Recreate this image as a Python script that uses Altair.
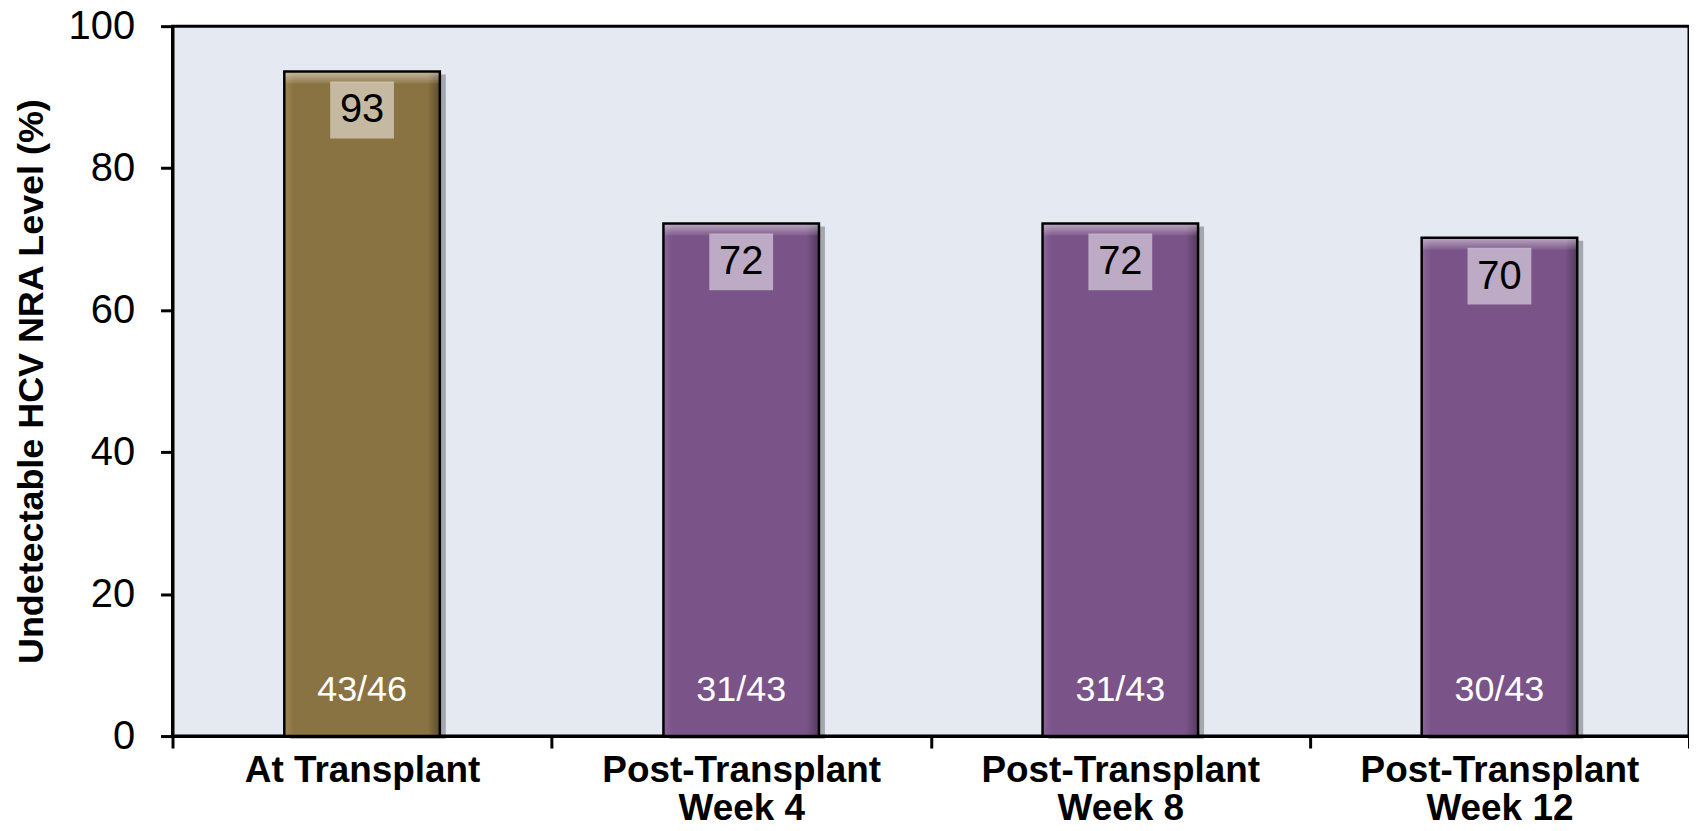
import altair as alt
import pandas as pd

categories = ["At Transplant", "Post-Transplant|Week 4", "Post-Transplant|Week 8", "Post-Transplant|Week 12"]
bar_heights = [93.6, 72.2, 72.2, 70.2]
labels = [93, 72, 72, 70]
counts = ["43/46", "31/43", "31/43", "30/43"]
groups = ["gold", "purple", "purple", "purple"]

df = pd.DataFrame({"cat": categories, "val": bar_heights, "lab": labels, "cnt": counts, "grp": groups})

FONT = "Liberation Sans, Arial, Helvetica, sans-serif"
BAR_W = 156

x = alt.X("cat:N", sort=categories, title=None,
          scale=alt.Scale(paddingInner=0, paddingOuter=0),
          axis=alt.Axis(labelExpr="split(datum.label, '|')", labelAngle=0,
                        labelFont=FONT, labelFontSize=37, labelFontWeight="bold",
                        labelColor="black", labelLineHeight=38, labelPadding=5,
                        labelBaseline="top", labelLimit=0, labelOverlap=False,
                        tickBand="extent", tickSize=12, tickWidth=3, tickColor="black",
                        domainColor="black", domainWidth=3))
y = alt.Y("val:Q", scale=alt.Scale(domain=[0, 100], nice=False),
          title="Undetectable HCV NRA Level (%)",
          axis=alt.Axis(values=[0, 20, 40, 60, 80, 100], grid=False,
                        labelFont=FONT, labelFontSize=40, labelColor="black",
                        labelPadding=26, tickSize=12, tickWidth=3, tickColor="black",
                        domainColor="black", domainWidth=3,
                        titleFont=FONT, titleFontSize=36, titleFontWeight="bold",
                        titleColor="black", titleAngle=-90, titleX=-130, titleY=356,
                        titleAlign="center", titleBaseline="alphabetic"))

base = alt.Chart(df)

def grad_h(light, mid, dark):
    return alt.Gradient(gradient="linear", x1=0, x2=1, y1=0, y2=0,
                        stops=[alt.GradientStop(offset=0, color=light),
                               alt.GradientStop(offset=0.06, color=mid),
                               alt.GradientStop(offset=0.92, color=mid),
                               alt.GradientStop(offset=1, color=dark)])

shadow = base.mark_bar(size=BAR_W, color="black", opacity=0.28, xOffset=6, yOffset=3).encode(x=x, y=y)

gold = base.transform_filter("datum.grp == 'gold'").mark_bar(
    size=BAR_W, color=grad_h("#9E8753", "#8A7342", "#5C4C2B")).encode(x=x, y=y)
purple = base.transform_filter("datum.grp == 'purple'").mark_bar(
    size=BAR_W, color=grad_h("#8C669B", "#7A5488", "#54395E")).encode(x=x, y=y)

bevel = base.mark_bar(size=BAR_W, y2Offset=12,
                      color=alt.Gradient(gradient="linear", x1=0, x2=0, y1=0, y2=1,
                                         stops=[alt.GradientStop(offset=0, color="rgba(255,255,255,0.5)"),
                                                alt.GradientStop(offset=1, color="rgba(255,255,255,0.05)")])
                      ).encode(x=x, y=y, y2="val:Q")

outline = base.mark_bar(size=BAR_W, fillOpacity=0, stroke="black", strokeWidth=2.5).encode(x=x, y=y)

box = base.mark_bar(size=64, color="white", opacity=0.5, yOffset=10, y2Offset=67).encode(
    x=x, y=y, y2="val:Q")

val_text = base.mark_text(font=FONT, fontSize=40, color="black", dy=39, baseline="middle").encode(
    x=x, y=y, text="lab:Q")

cnt_text = base.transform_calculate(zero="0").mark_text(
    font=FONT, fontSize=36, color="white", dy=-35, baseline="alphabetic").encode(
    x=x, y=alt.Y("zero:Q"), text="cnt:N")

chart = alt.layer(shadow, gold, purple, bevel, outline, box, val_text, cnt_text).properties(
    width=1521, height=712,
    autosize=alt.AutoSizeParams(type="none"),
    padding={"left": 165, "top": 17, "right": 0, "bottom": 94},
).configure_view(fill="#E4E9F2", stroke="black", strokeWidth=3)

chart.save("out.html", embed_options={"renderer": "svg", "actions": False})
